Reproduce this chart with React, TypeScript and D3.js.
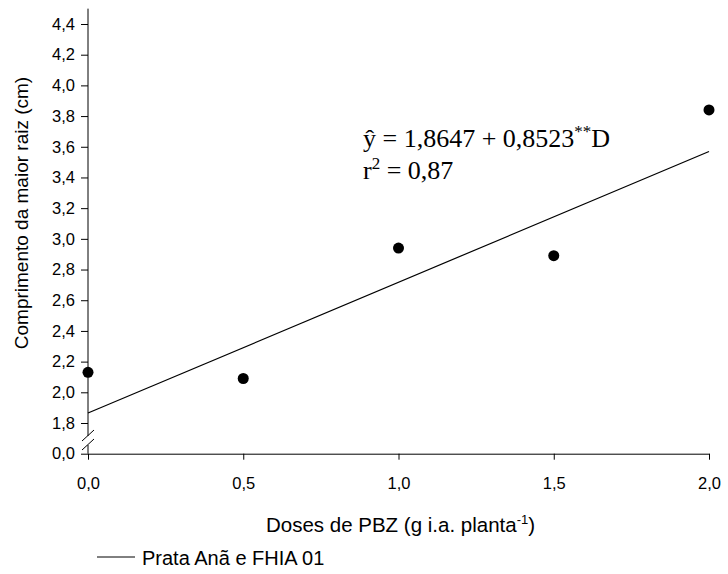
import { useEffect, useRef } from "react";
import * as d3 from "d3";

// Doses de PBZ (g i.a. planta-1)
const doses = [0, 0.5, 1.0, 1.5, 2.0];
// Comprimento da maior raiz (cm), observed means
const comprimento = [2.13, 2.09, 2.94, 2.89, 3.84];
// fitted line: y = 1.8647 + 0.8523 D
const intercept = 1.8647;
const slope = 0.8523;
const xTicks = [0, 0.5, 1.0, 1.5, 2.0];
const yTicks = [1.6, 1.8, 2.0, 2.2, 2.4, 2.6, 2.8, 3.0, 3.2, 3.4, 3.6, 3.8, 4.0, 4.2, 4.4];
const BREAK_VALUE = 1.6; // position where the "0,0" label is drawn below the break

const W = 728;
const H = 574;
const SANS = "Arial, 'Liberation Sans', sans-serif";
const SERIF = "'Times New Roman', 'Liberation Serif', serif";

const comma = (v: number) => d3.format(".1f")(v).replace(".", ",");

export default function App() {
  const svgRef = useRef<SVGSVGElement>(null);

  useEffect(() => {
    const svg = d3.select(svgRef.current);
    svg.selectAll("*").remove();

    const x = d3.scaleLinear().domain([0, 2]).range([88, 709]);
    const y = d3.scaleLinear().domain([1.8, 4.4]).range([423, 24]);
    const y0 = y(BREAK_VALUE);
    const axisX = x(0);

    // X axis
    const gx = svg.append("g")
      .attr("transform", `translate(0,${y0})`)
      .call(d3.axisBottom(x).tickValues(xTicks).tickSizeInner(6).tickSizeOuter(0).tickPadding(18).tickFormat(d => comma(+d)));
    gx.select(".domain").attr("stroke", "#000");
    gx.selectAll("text").attr("font-family", SANS).attr("font-size", 16.5).attr("fill", "#000");

    // Y axis (domain drawn by hand because of the break)
    const gy = svg.append("g")
      .attr("transform", `translate(${axisX},0)`)
      .call(d3.axisLeft(y).tickValues(yTicks).tickSizeInner(7).tickSizeOuter(0).tickPadding(6)
        .tickFormat(d => (+d === BREAK_VALUE ? "0,0" : comma(+d))));
    gy.select(".domain").remove();
    gy.selectAll("text").attr("font-family", SANS).attr("font-size", 16.5).attr("fill", "#000");

    const breakTop = y(1.8) + 13;
    const breakBot = y(1.8) + 22;
    svg.append("line")
      .attr("x1", axisX).attr("x2", axisX)
      .attr("y1", y(4.5)).attr("y2", breakTop)
      .attr("stroke", "#000");
    svg.append("line")
      .attr("x1", axisX).attr("x2", axisX)
      .attr("y1", breakBot).attr("y2", y0)
      .attr("stroke", "#000");
    [breakTop, breakBot].forEach(by => {
      svg.append("line")
        .attr("x1", axisX - 6).attr("y1", by + 5)
        .attr("x2", axisX + 6).attr("y2", by - 6)
        .attr("stroke", "#000");
    });

    // regression line
    const line = d3.line<number>().x(d => x(d)).y(d => y(intercept + slope * d));
    svg.append("path")
      .datum([0, 2])
      .attr("d", line)
      .attr("fill", "none")
      .attr("stroke", "#000")
      .attr("stroke-width", 1.2);

    // points
    svg.selectAll("circle.pt")
      .data(doses)
      .enter()
      .append("circle")
      .attr("class", "pt")
      .attr("cx", d => x(d))
      .attr("cy", (_, i) => y(comprimento[i]))
      .attr("r", 5.5)
      .attr("fill", "#000");

    // equation
    const eq = svg.append("text")
      .attr("x", 363).attr("y", 147)
      .attr("font-family", SERIF).attr("font-size", 26).attr("fill", "#000");
    eq.append("tspan").text("ŷ = 1,8647 + 0,8523");
    eq.append("tspan").attr("dy", -10).attr("font-size", 17).text("**");
    eq.append("tspan").attr("dy", 10).text("D");

    const r2 = svg.append("text")
      .attr("x", 363).attr("y", 179)
      .attr("font-family", SERIF).attr("font-size", 26).attr("fill", "#000");
    r2.append("tspan").text("r");
    r2.append("tspan").attr("dy", -10).attr("font-size", 17).text("2");
    r2.append("tspan").attr("dy", 10).text(" = 0,87");

    // axis titles
    const xt = svg.append("text")
      .attr("x", (x(0) + x(2)) / 2 + 2).attr("y", 532)
      .attr("text-anchor", "middle")
      .attr("font-family", SANS).attr("font-size", 20.5).attr("fill", "#000");
    xt.append("tspan").text("Doses de PBZ (g i.a. planta");
    xt.append("tspan").attr("dy", -8).attr("font-size", 13).text("-1");
    xt.append("tspan").attr("dy", 8).text(")");

    svg.append("text")
      .attr("transform", `translate(28,213) rotate(-90)`)
      .attr("text-anchor", "middle")
      .attr("font-family", SANS).attr("font-size", 19).attr("fill", "#000")
      .text("Comprimento da maior raiz (cm)");

    // legend
    svg.append("line")
      .attr("x1", 97).attr("x2", 135)
      .attr("y1", 557).attr("y2", 557)
      .attr("stroke", "#000");
    svg.append("text")
      .attr("x", 142).attr("y", 565)
      .attr("font-family", SANS).attr("font-size", 20).attr("fill", "#000")
      .text("Prata Anã e FHIA 01");
  }, []);

  return (
    <svg
      ref={svgRef}
      width={W}
      height={H}
      style={{ position: "absolute", left: 0, top: 0, background: "#fff" }}
    />
  );
}
